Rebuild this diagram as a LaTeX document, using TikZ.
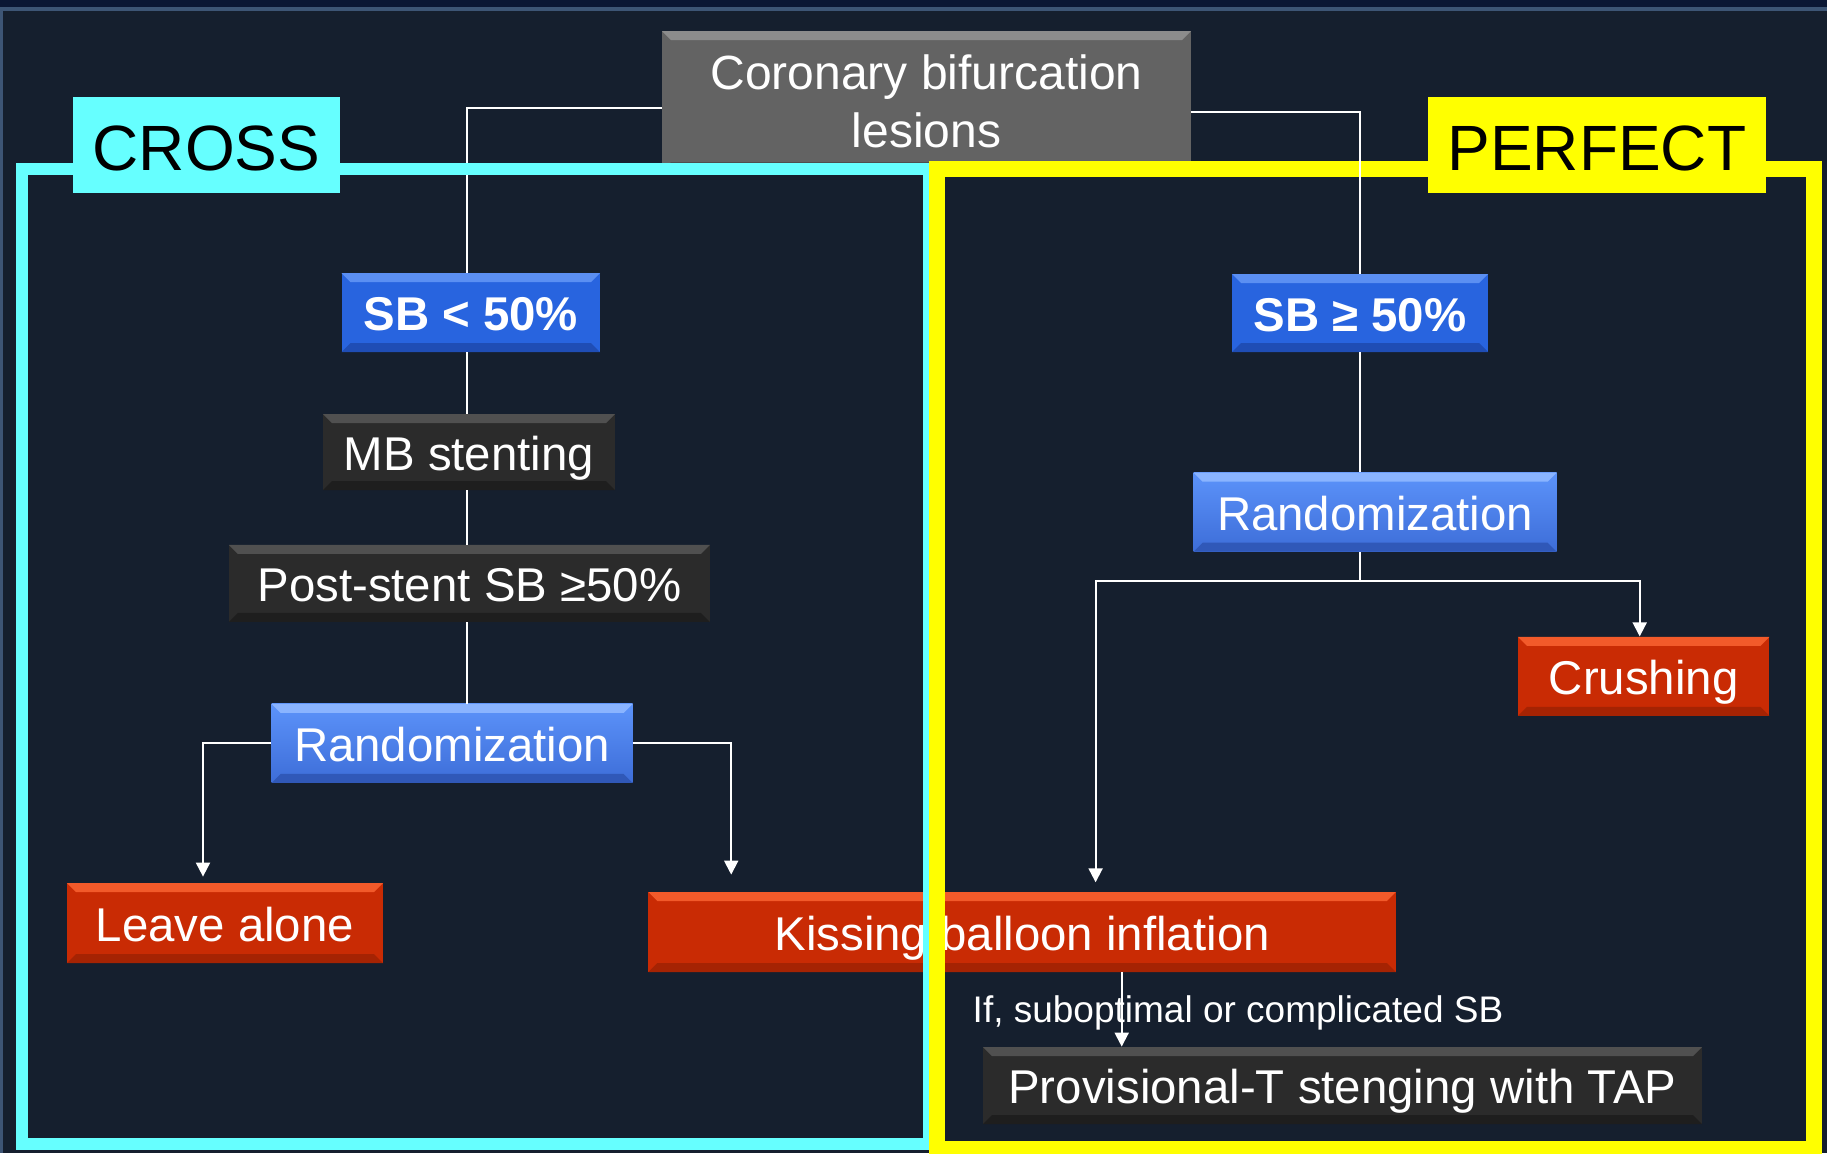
\documentclass[tikz,border=0pt]{standalone}
\usepackage{fontspec}
\setmainfont{Liberation Sans}
\usetikzlibrary{arrows.meta,calc}
\definecolor{bg}{HTML}{151F2E}
\definecolor{topdark}{HTML}{0B1734}
\definecolor{edgec}{HTML}{3D5575}
\definecolor{cyanc}{HTML}{66FFFF}
\definecolor{yellowc}{HTML}{FFFF00}
\definecolor{grayf}{HTML}{636363}
\definecolor{grayt}{HTML}{8C8C8C}
\definecolor{grayb}{HTML}{4E4E4E}
\definecolor{bluef}{HTML}{2864DF}
\definecolor{bluet}{HTML}{5B8FF2}
\definecolor{blueb}{HTML}{1F4DB5}
\definecolor{rndtop}{HTML}{5C93FA}
\definecolor{rndbot}{HTML}{3D6DD8}
\definecolor{rndt}{HTML}{8AB4FF}
\definecolor{rndb}{HTML}{3058B8}
\definecolor{blackf}{HTML}{2B2B2B}
\definecolor{blackt}{HTML}{505050}
\definecolor{blackb}{HTML}{1E1E1E}
\definecolor{redf}{HTML}{C92B04}
\definecolor{redt}{HTML}{F25A2A}
\definecolor{redb}{HTML}{A52303}
\tikzset{
  bevel/.style 2 args={path picture={
    \fill[#1] (path picture bounding box.north west) -- (path picture bounding box.north east)
      -- ([shift={(-9,9)}]path picture bounding box.north east) -- ([shift={(9,9)}]path picture bounding box.north west) -- cycle;
    \fill[#2] (path picture bounding box.south west) -- (path picture bounding box.south east)
      -- ([shift={(-9,-9)}]path picture bounding box.south east) -- ([shift={(9,-9)}]path picture bounding box.south west) -- cycle;
  }},
  bxbase/.style={draw=none, inner sep=0pt, text=white},
  bx/.style={bxbase, font=\fontsize{23.7}{28}\selectfont, text height=18pt, text depth=0pt},
  graybox/.style={bxbase, fill=grayf, bevel={grayt}{grayb}},
  sbbox/.style={bx, fill=bluef, bevel={bluet}{blueb}, font=\fontsize{23.7}{28}\selectfont\bfseries},
  rndbox/.style={bx, top color=rndtop, bottom color=rndbot, bevel={rndt}{rndb}},
  blackbox/.style={bx, fill=blackf, bevel={blackt}{blackb}},
  redbox/.style={bx, fill=redf, bevel={redt}{redb}},
  tagbox/.style={draw=none, inner sep=0pt, text=black, font=\fontsize{32}{36}\selectfont, text height=25pt, text depth=0pt},
  conn/.style={draw=white, line width=1pt},
  arr/.style={conn, -{Triangle[length=7pt,width=7pt]}},
}
\begin{document}
\begin{tikzpicture}[x=0.5pt,y=-0.5pt]
\useasboundingbox (0,0) rectangle (1827,1153);
\fill[bg] (0,0) rectangle (1827,1153);
\fill[topdark] (0,0) rectangle (1827,7);
\fill[edgec] (0,7) rectangle (1827,11);
\fill[edgec] (0,7) rectangle (3,1153);

% nodes
\node[graybox, minimum width=264.5pt, minimum height=70pt, align=center, font=\fontsize{24}{29}\selectfont] (top) at (926.5,101) {Coronary bifurcation\\lesions};
\node[sbbox, minimum width=129.25pt, minimum height=39.5pt] (sbl) at (470.75,312.5) {SB < 50\%};
\node[sbbox, minimum width=128pt, minimum height=39pt] (sbr) at (1360,313) {SB \char"2265\ 50\%};
\node[blackbox, minimum width=146pt, minimum height=38pt] (mb) at (469,452) {MB stenting};
\node[blackbox, minimum width=240.5pt, minimum height=38.5pt] (post) at (469.4,583.4) {Post-stent SB \char"2265 50\%};
\node[rndbox, minimum width=180.5pt, minimum height=39.5pt] (randL) at (452.1,743.4) {Randomization};
\node[rndbox, minimum width=181.5pt, minimum height=39.5pt] (randR) at (1375.1,512.2) {Randomization};
\node[redbox, minimum width=125.75pt, minimum height=39.5pt] (crush) at (1643.7,676.3) {Crushing};
\node[redbox, minimum width=158pt, minimum height=40pt] (leave) at (225,923) {Leave alone};
\node[redbox, minimum width=373.75pt, minimum height=40pt] (kiss) at (1022.2,932) {Kissing balloon inflation};
\node[blackbox, minimum width=359.5pt, minimum height=38.5pt] (prov) at (1342.5,1085.5) {Provisional-T stenging with TAP};

% left connectors
\coordinate (lx) at (466.5,0);
\draw[conn] ([yshift=-3.5pt]top.west) -| (sbl.north -| lx);
\draw[conn] (sbl.south -| lx) -- (mb.north -| lx);
\draw[conn] (mb.south -| lx) -- (post.north -| lx);
\draw[conn] (post.south -| lx) -- (randL.north -| lx);
\draw[arr] (randL.west) -| ([shift={(-22,-6)}]leave.north);
\draw[arr] (randL.east) -| ([shift={(-291,-17)}]kiss.north);

% right connectors
\draw[conn] (sbr.south) -- (sbr.south |- randR.north);
\coordinate (split) at ($(sbr.south |- randR.south)+(0,29)$);
\draw[conn] (sbr.south |- randR.south) -- (split);
\draw[arr] (split) -| ([shift={(-4,0)}]crush.north);
\draw[arr] (split) -| ([shift={(73.4,-9.3)}]kiss.north);

\node[text=white, font=\fontsize{18.5}{22}\selectfont, anchor=base, inner sep=0pt] (cond) at (1238,1022.5) {If, suboptimal or complicated SB};
\draw[arr] ([shift={(99.5,0)}]kiss.south) -- ([shift={(99.5,0)}]kiss.south |- prov.north);

% frames
\draw[cyanc, line width=6pt] (21.7,169) rectangle (929,1144);
\draw[yellowc, line width=8pt] (936.5,169) rectangle (1814,1149);
\draw[conn] ([yshift=-5.5pt]top.east) -| (sbr.north);

% tags
\node[tagbox, fill=cyanc, minimum width=133.5pt, minimum height=48pt] (cross) at (206.5,145) {CROSS};
\node[tagbox, fill=yellowc, minimum width=169pt, minimum height=48pt] (perfect) at (1596.8,145) {PERFECT};
\end{tikzpicture}
\end{document}
